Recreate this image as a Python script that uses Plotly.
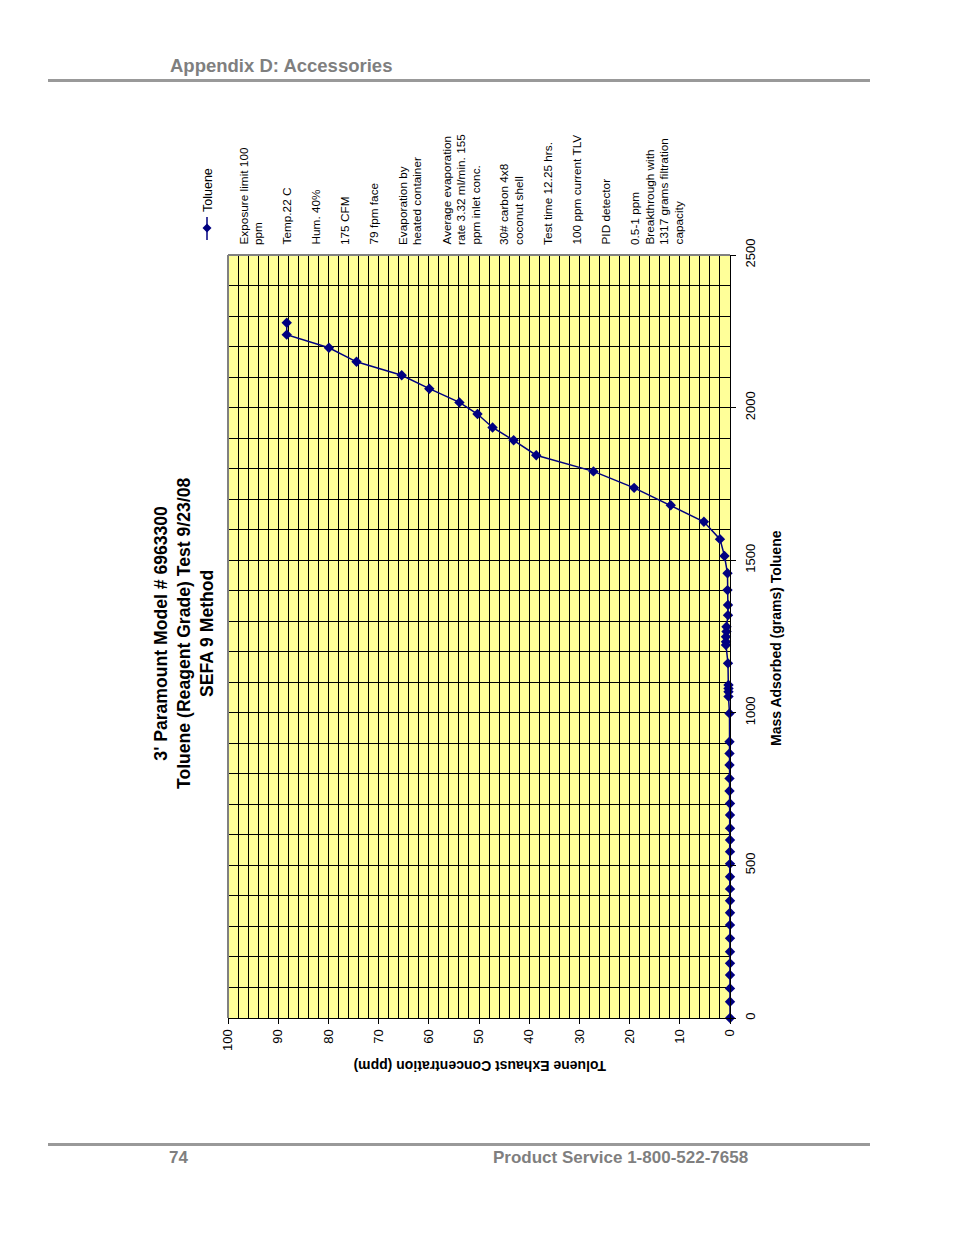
import plotly.graph_objects as go

# Data (mass adsorbed in grams, exhaust concentration in ppm)
mass_g = [0, 53, 97, 141, 179, 217, 261, 305, 345, 384, 423, 463, 505, 545, 583, 622,
          665, 703, 744, 785, 829, 867, 905, 998, 1053, 1069, 1080, 1091, 1162, 1222,
          1233, 1249, 1266, 1282, 1320, 1353, 1402, 1457, 1514, 1569, 1626, 1680, 1737,
          1791, 1844, 1893, 1935, 1979, 2017, 2062, 2106, 2150, 2196, 2239, 2278]
conc_ppm = [0, 0, 0, 0, 0, 0, 0, 0, 0, 0, 0, 0, 0, 0, 0, 0,
            0, 0, 0.1, 0.1, 0.1, 0.1, 0.1, 0.1, 0.3, 0.3, 0.3, 0.3, 0.4, 0.8,
            0.8, 0.8, 0.7, 0.7, 0.4, 0.4, 0.5, 0.5, 1.1, 2.0, 5.2, 11.8, 19.1,
            27.2, 38.6, 43.1, 47.3, 50.3, 53.9, 59.9, 65.4, 74.4, 79.9, 88.3, 88.3]

series_name = "Toluene"
title_lines = ["3' Paramount Model # 6963300",
               "Toluene (Reagent Grade) Test 9/23/08",
               "SEFA 9 Method"]
x_title = "Toluene Exhaust Concentration (ppm)"
y_title = "Mass Adsorbed (grams) Toluene"
note_lines = ["Exposure limit 100", "ppm", "", "Temp.22 C", "", "Hum. 40%", "",
              "175 CFM", "", "79 fpm face", "", "Evaporation by", "heated container", "",
              "Average evaporation", "rate 3.32 ml/min. 155", "ppm inlet conc.", "",
              "30# carbon 4x8", "coconut shell", "", "Test time 12.25 hrs.", "",
              "100 ppm current TLV", "", "PID detector", "",
              "0.5-1 ppm", "Breakthrough with", "1317 grams filtration", "capacity"]
header_text = "Appendix D: Accessories"
page_no = "74"
footer_text = "Product Service 1-800-522-7658"

# page-pixel geometry of the plot area (page has an 8px body margin)
OFF = 8
W, H = 954 - 2 * OFF, 1235 - 2 * OFF
L, R, T, B = 228, 730, 255, 1018
FONT = "Liberation Sans, Arial, sans-serif"
NAVY = "#000080"
GRAY = "#808080"


def px(x):
    return (x - L) / (R - L)


def py(y):
    return (B - y) / (B - T)


fig = go.Figure()
fig.add_trace(go.Scatter(
    x=conc_ppm, y=mass_g, mode="lines+markers", name=series_name,
    line=dict(color=NAVY, width=1.5),
    marker=dict(symbol="diamond", size=8, color=NAVY),
    cliponaxis=False, showlegend=False))

annotations = []
# page header / footer
annotations.append(dict(text="<b>%s</b>" % header_text, x=px(168), y=py(66), xref="paper", yref="paper",
                        xanchor="left", yanchor="middle", showarrow=False,
                        font=dict(family=FONT, size=18.5, color="#7f7f7f")))
annotations.append(dict(text="<b>%s</b>" % page_no, x=px(167), y=py(1157), xref="paper", yref="paper",
                        xanchor="left", yanchor="middle", showarrow=False,
                        font=dict(family=FONT, size=17, color="#7f7f7f")))
annotations.append(dict(text="<b>%s</b>" % footer_text, x=px(750), y=py(1157), xref="paper", yref="paper",
                        xanchor="right", yanchor="middle", showarrow=False,
                        font=dict(family=FONT, size=17, color="#7f7f7f")))
# chart title (rotated)
annotations.append(dict(text="<b>" + "<br>".join(title_lines) + "</b>", x=px(184), y=py(634),
                        xref="paper", yref="paper", xanchor="center", yanchor="middle",
                        textangle=-90, showarrow=False, align="center",
                        font=dict(family=FONT, size=17.6, color="black")))
# axis titles
annotations.append(dict(text="<b>%s</b>" % x_title, x=px(480), y=py(1066), xref="paper", yref="paper",
                        xanchor="center", yanchor="middle", textangle=180, showarrow=False,
                        font=dict(family=FONT, size=14, color="black")))
annotations.append(dict(text="<b>%s</b>" % y_title, x=px(776), y=py(638), xref="paper", yref="paper",
                        xanchor="center", yanchor="middle", textangle=-90, showarrow=False,
                        font=dict(family=FONT, size=14, color="black")))
# notes, one per line
x0, step = 243.0, 14.5
for i, line in enumerate(note_lines):
    if not line:
        continue
    annotations.append(dict(text=line, x=px(x0 + i * step), y=py(247), xref="paper", yref="paper",
                            xanchor="center", yanchor="bottom", textangle=-90, showarrow=False,
                            font=dict(family=FONT, size=11.8, color="black")))
# legend text
annotations.append(dict(text=series_name, x=px(208), y=py(214), xref="paper", yref="paper",
                        xanchor="center", yanchor="bottom", textangle=-90, showarrow=False,
                        font=dict(family=FONT, size=12.5, color="black")))

shapes = []
for yline in (80.5, 1144.5):
    shapes.append(dict(type="line", xref="paper", yref="paper", x0=px(48), x1=px(870),
                       y0=py(yline), y1=py(yline), line=dict(color="#999999", width=3)))
# plot-area gray border (left & top)
shapes.append(dict(type="line", xref="paper", yref="paper", x0=0, x1=0, y0=0, y1=1,
                   line=dict(color=GRAY, width=2)))
shapes.append(dict(type="line", xref="paper", yref="paper", x0=0, x1=1, y0=1, y1=1,
                   line=dict(color=GRAY, width=2)))
# legend symbol
shapes.append(dict(type="line", xref="paper", yref="paper", x0=px(207), x1=px(207),
                   y0=py(217), y1=py(240), line=dict(color=NAVY, width=1.5)))
cx, cy, d = 207, 228, 4.5
shapes.append(dict(type="path", xref="paper", yref="paper",
                   path="M %f %f L %f %f L %f %f L %f %f Z" % (
                       px(cx), py(cy - d), px(cx + d), py(cy), px(cx), py(cy + d), px(cx - d), py(cy)),
                   fillcolor=NAVY, line=dict(color=NAVY, width=0)))

fig.update_layout(
    width=W, height=H,
    margin=dict(l=L - OFF, r=W - (R - OFF), t=T - OFF, b=H - (B - OFF), pad=0),
    paper_bgcolor="white", plot_bgcolor="#FFFF99",
    font=dict(family=FONT, color="black"),
    annotations=annotations, shapes=shapes,
    xaxis=dict(range=[100, 0], dtick=10, tick0=0, showgrid=True, gridcolor="black", gridwidth=1,
               minor=dict(dtick=2, showgrid=True, gridcolor="black", gridwidth=1),
               zeroline=False, showline=True, linecolor="black", linewidth=1,
               ticks="outside", ticklen=5, tickcolor="black", tickangle=-90,
               tickfont=dict(family=FONT, size=13, color="black")),
    yaxis=dict(range=[0, 2500], dtick=500, tick0=0, side="right", showgrid=True, gridcolor="black",
               gridwidth=1, minor=dict(dtick=100, showgrid=True, gridcolor="black", gridwidth=1),
               zeroline=False, showline=True, linecolor="black", linewidth=1,
               ticks="outside", ticklen=5, tickcolor="black", tickangle=-90,
               ticklabelstandoff=3,
               tickfont=dict(family=FONT, size=13, color="black")),
)

fig.write_html("out.html")
